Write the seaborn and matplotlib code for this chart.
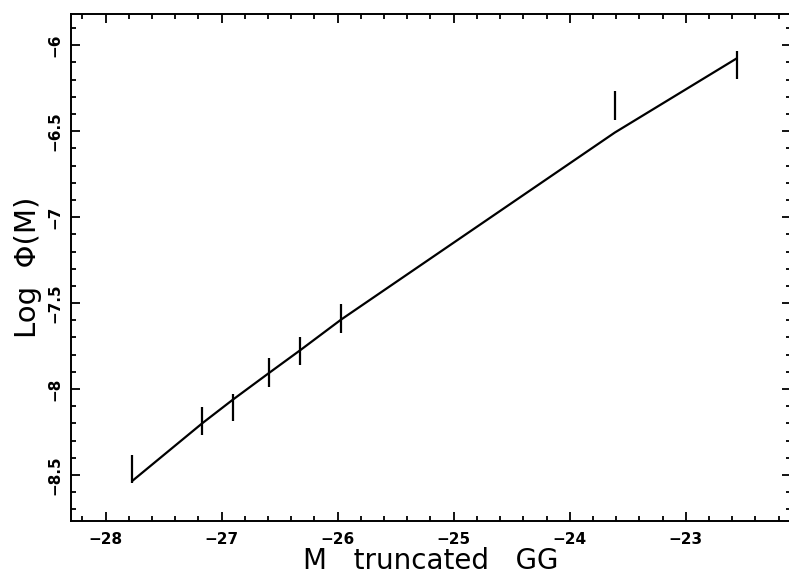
import numpy as np
import pandas as pd
import matplotlib
matplotlib.use("Agg")
import matplotlib.pyplot as plt
from matplotlib.ticker import MultipleLocator, FuncFormatter
import seaborn as sns

# données
mag = [-27.77, -27.166, -26.903, -26.592, -26.32, -25.968, -23.612, -22.563]
log_phi = [-8.466, -8.185, -8.108, -7.905, -7.778, -7.590, -6.349, -6.116]
err = [0.082, 0.082, 0.078, 0.083, 0.082, 0.083, 0.083, 0.083]
log_phi_model = [-8.535, -8.199, -8.062, -7.907, -7.773, -7.595, -6.508, -6.077]

df = pd.DataFrame({"M": mag, "phi": log_phi, "err": err, "model": log_phi_model})

sns.set_theme(style="ticks")
plt.rcParams["font.family"] = ["DejaVu Sans"]
plt.rcParams["text.color"] = "black"
plt.rcParams["axes.labelcolor"] = "black"
plt.rcParams["xtick.color"] = "black"
plt.rcParams["ytick.color"] = "black"

fig = plt.figure(figsize=(7.89, 5.77), dpi=100)
ax = fig.add_axes([0.0896, 0.0976, 0.9135, 0.8776])

sns.lineplot(data=df, x="M", y="model", sort=False, color="black",
             linewidth=1.6, ax=ax)
ax.vlines(df["M"], df["phi"] - df["err"], df["phi"] + df["err"],
          color="black", linewidth=1.6)

ax.set_xlim(-28.3, -22.09)
ax.set_ylim(-8.766, -5.82)

fmt = FuncFormatter(lambda v, p: f"{v:g}".replace("-", "\u2212"))
ax.xaxis.set_major_locator(MultipleLocator(1))
ax.xaxis.set_minor_locator(MultipleLocator(0.2))
ax.yaxis.set_major_locator(MultipleLocator(0.5))
ax.yaxis.set_minor_locator(MultipleLocator(0.1))
ax.xaxis.set_major_formatter(fmt)
ax.yaxis.set_major_formatter(fmt)

for s in ax.spines.values():
    s.set_visible(True)
    s.set_linewidth(1.4)
    s.set_color("black")

ax.tick_params(which="both", direction="in", top=True, right=True, width=1.3)
ax.tick_params(which="major", length=6.5, labelsize=11)
ax.tick_params(which="minor", length=3.4)
ax.tick_params(axis="x", which="major", pad=8)
ax.tick_params(axis="y", which="major", pad=6, labelrotation=90)
for lab in ax.get_xticklabels() + ax.get_yticklabels():
    lab.set_fontweight("bold")
for lab in ax.get_yticklabels():
    lab.set_va("center")

ax.set_xlabel("M   truncated   GG", fontsize=20, labelpad=0)
ax.set_ylabel("Log  \u03a6(M)", fontsize=21, labelpad=4)

fig.savefig("out.png", dpi=100)
